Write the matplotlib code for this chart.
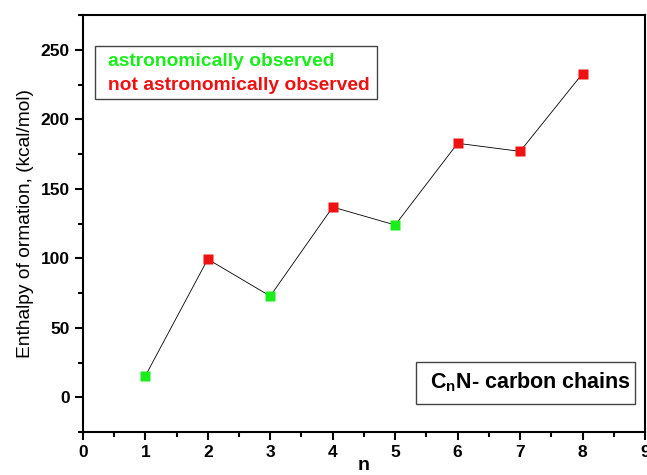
import matplotlib
matplotlib.use("Agg")
import matplotlib.pyplot as plt
from matplotlib.ticker import MultipleLocator
from matplotlib.patches import Rectangle

plt.rcParams['font.family'] = ['Liberation Sans', 'DejaVu Sans']
plt.rcParams['mathtext.fontset'] = 'custom'
plt.rcParams['mathtext.bf'] = 'Liberation Sans:bold'
plt.rcParams['mathtext.rm'] = 'Liberation Sans'

n = [1, 2, 3, 4, 5, 6, 7, 8]
enthalpy = [15.3, 99.4, 72.8, 136.9, 124.0, 182.8, 177.0, 233.0]
observed = [True, False, True, False, True, False, False, False]

green = '#1aee1a'
red = '#ee1111'

fig = plt.figure(figsize=(6.47, 4.75), dpi=100)
ax = fig.add_axes([0.128, 0.0905, 0.869, 0.8775])

ax.plot(n, enthalpy, color='black', lw=0.6, zorder=1)
for xi, yi, ob in zip(n, enthalpy, observed):
    ax.plot(xi, yi, marker='s', ms=7.5, color=green if ob else red, mec='none', zorder=2)

ax.set_xlim(0, 9)
ax.set_ylim(-25, 275)
ax.xaxis.set_major_locator(MultipleLocator(1))
ax.xaxis.set_minor_locator(MultipleLocator(0.5))
ax.yaxis.set_major_locator(MultipleLocator(50))
ax.yaxis.set_minor_locator(MultipleLocator(25))
ax.tick_params(which='major', direction='out', length=6, width=1.5, labelsize=12.5)
ax.tick_params(which='minor', direction='out', length=3.5, width=1.5)
for lab in ax.get_xticklabels() + ax.get_yticklabels():
    lab.set_fontweight('bold')
for s in ax.spines.values():
    s.set_linewidth(1.5)

ax.set_ylabel('Enthalpy of ormation, (kcal/mol)', fontsize=13.8, labelpad=5)
ax.set_xlabel('n', fontsize=14, fontweight='bold', labelpad=-2)

# legend box
ax.add_patch(Rectangle((0.0213, 0.8), 0.502, 0.127, transform=ax.transAxes,
                       fc='white', ec='#444444', lw=1.0, zorder=3))
ax.text(0.045, 0.888, 'astronomically observed', transform=ax.transAxes,
        fontsize=13.9, fontweight='bold', color=green, va='center', ha='left', zorder=4)
ax.text(0.045, 0.832, 'not astronomically observed', transform=ax.transAxes,
        fontsize=13.9, fontweight='bold', color=red, va='center', ha='left', zorder=4)

ax.add_patch(Rectangle((0.592, 0.068), 0.39, 0.1, transform=ax.transAxes,
                       fc='white', ec='#444444', lw=1.0, zorder=3))
ax.text(0.797, 0.12, r'C$_\mathbf{n}$N- carbon chains', transform=ax.transAxes,
        fontsize=15.5, fontweight='bold', color='black', va='center', ha='center', zorder=4)

fig.savefig('out.png', dpi=100)
